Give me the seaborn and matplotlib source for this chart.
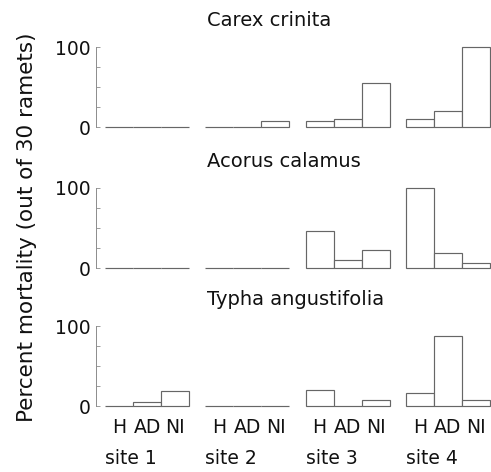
import matplotlib
matplotlib.use("Agg")
import matplotlib.pyplot as plt
import seaborn as sns
import pandas as pd

sites = ["site 1", "site 2", "site 3", "site 4"]
treatments = ["H", "AD", "NI"]
species = ["Carex crinita", "Acorus calamus", "Typha angustifolia"]

# percent mortality, ordered site1 (H, AD, NI), site2 (...), ...
carex = [0, 0, 0, 0, 0, 7, 7, 10, 55, 10, 20, 100]
acorus = [0, 0, 0, 0, 0, 0, 46, 10, 22, 100, 19, 6]
typha = [0, 5, 19, 0, 0, 0, 20, 0, 8, 16, 88, 8]
values = [carex, acorus, typha]

sns.set_theme(style="white")
plt.rcParams["font.family"] = ["DejaVu Sans"]
plt.rcParams["text.color"] = "#111111"

fig = plt.figure(figsize=(4.91, 4.72), dpi=100)
bottoms = [0.7309, 0.4322, 0.1398]
axes = []
for k, (sp, vals) in enumerate(zip(species, values)):
    ax = fig.add_axes([0.1955, bottoms[k], 0.8045, 0.1695])
    df = pd.DataFrame({
        "site": [s for s in sites for _ in treatments],
        "treatment": treatments * len(sites),
        "mortality": vals,
    })
    sns.barplot(data=df, x="site", y="mortality", hue="treatment",
                order=sites, hue_order=treatments,
                palette=["white"] * 3, saturation=1, edgecolor="0.4",
                linewidth=0.85, width=0.84, errorbar=None, legend=False, ax=ax)
    for p in ax.patches:
        p.set_clip_on(False)
    ax.set_xlim(-0.51, 3.43)
    ax.set_ylim(0, 100)
    ax.set_yticks([0, 25, 50, 75, 100])
    ax.set_yticklabels(["0", "", "", "", "100"], fontsize=13.5, color="#111111")
    ax.tick_params(axis="y", direction="in", length=3, width=0.6, color="0.55", pad=4, left=True)
    ax.tick_params(axis="x", bottom=False, labelbottom=False)
    for side in ["top", "right", "bottom"]:
        ax.spines[side].set_visible(False)
    ax.spines["left"].set_color("0.55")
    ax.spines["left"].set_linewidth(0.7)
    ax.spines["left"].set_bounds(0, 100)
    ax.set_xlabel("")
    ax.set_ylabel("")
    ax.patch.set_alpha(0)
    ax.text(0.28, 1.33, sp, transform=ax.transAxes, ha="left", va="center", fontsize=14)
    axes.append(ax)

ax = axes[-1]
tr = ax.get_xaxis_transform()
for cont, lab in zip(ax.containers, treatments):
    for bar in cont:
        ax.text(bar.get_x() + bar.get_width() / 2, -0.27, lab, transform=tr,
                ha="center", va="center", fontsize=13.5)
for i, s in enumerate(sites):
    ax.text(i - 0.42, -0.65, s, transform=tr, ha="left", va="center", fontsize=13.5)

fig.text(0.056, 0.519, "Percent mortality (out of 30 ramets)", rotation=90,
         ha="center", va="center", fontsize=15.5)

fig.savefig("out.png", dpi=100)
